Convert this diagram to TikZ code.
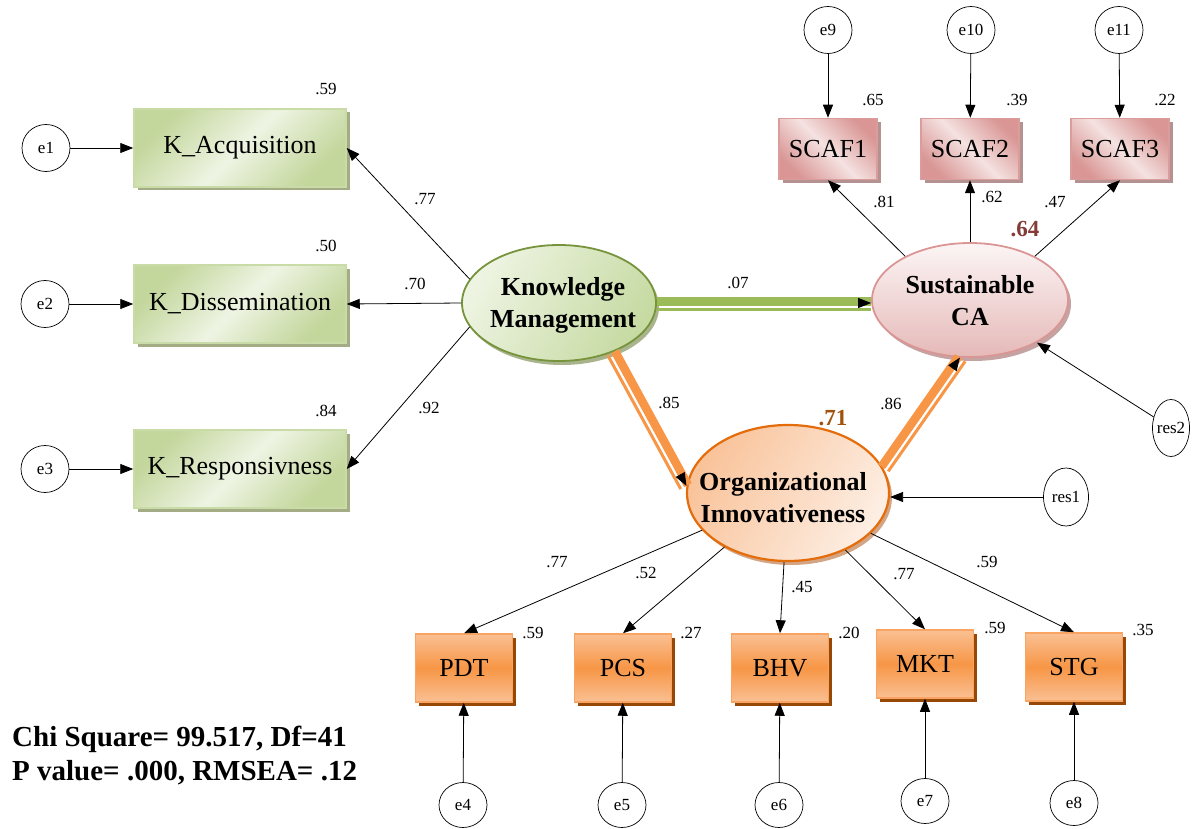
\documentclass[tikz,border=0pt]{standalone}
\usepackage{fontspec}
\setmainfont{Liberation Serif}
\usetikzlibrary{arrows.meta,shadows,calc,shapes.geometric}
\definecolor{gdark}{HTML}{C3D69B}
\definecolor{glight}{HTML}{EEF4E3}
\definecolor{gbord}{HTML}{C9DBA6}
\definecolor{gshad}{HTML}{A3AC84}
\definecolor{kmbord}{HTML}{77933C}
\definecolor{kmdark}{HTML}{C6DAA2}
\definecolor{kmlight}{HTML}{EEF4E2}
\definecolor{kmshad}{HTML}{A9B48C}
\definecolor{pdark}{HTML}{D99694}
\definecolor{plight}{HTML}{F4E2E1}
\definecolor{pbord}{HTML}{DA9D9B}
\definecolor{pshad}{HTML}{B39291}
\definecolor{scatop}{HTML}{FCF5F5}
\definecolor{scabot}{HTML}{E5B9B8}
\definecolor{scabord}{HTML}{D99694}
\definecolor{scashad}{HTML}{C4A3A2}
\definecolor{omid}{HTML}{F79646}
\definecolor{olight}{HTML}{FAC093}
\definecolor{obord}{HTML}{F9A463}
\definecolor{oshad}{HTML}{974806}
\definecolor{oidark}{HTML}{F9C39A}
\definecolor{oilight}{HTML}{FDEEE3}
\definecolor{oibord}{HTML}{E46C0A}
\definecolor{oishad}{HTML}{D3A584}
\definecolor{gline}{HTML}{9BBB59}
\definecolor{oline}{HTML}{F79646}
\definecolor{rred}{HTML}{843C39}
\definecolor{rorg}{HTML}{A0520F}
\newcommand\dblconn[4]{%
  \draw[#3, line width=8.5pt] ($(#1)!1.7pt!90:(#2)$) -- ($(#2)!1.7pt!-90:(#1)$);
  \draw[#3, line width=3pt] ($(#1)!#4!-90:(#2)$) -- ($(#2)!#4!90:(#1)$);
  \draw[arr] ($(#2)!13pt!(#1)$) -- (#2);
}
\begin{document}
\begin{tikzpicture}[x=1pt,y=-1pt,
  arr/.style={-{Triangle[length=13pt,width=10pt]}, line width=0.8pt, black},
  errnode/.style={draw, ellipse, line width=0.7pt, minimum width=48pt, minimum height=47pt, inner sep=0pt, fill=white, font=\fontsize{17}{20}\selectfont},
  resnode/.style={draw, ellipse, line width=0.7pt, minimum width=45pt, minimum height=58pt, inner sep=0pt, fill=white, font=\fontsize{17}{20}\selectfont},
  num/.style={inner sep=0pt, font=\fontsize{17}{20}\selectfont},
  rsq/.style={inner sep=0pt, font=\bfseries\fontsize{23}{26}\selectfont},
  latfont/.style={inner sep=0pt, align=center, font=\bfseries\fontsize{26}{32}\selectfont},
  gbox/.style={rectangle, draw=gbord, line width=1.5pt, minimum width=212pt, minimum height=78pt, inner sep=0pt,
    left color=gdark, right color=gdark, middle color=glight, shading angle=45,
    drop shadow={shadow xshift=3.5pt, shadow yshift=-3.5pt, fill=gshad, opacity=1},
    font=\fontsize{26}{30}\selectfont},
  pbox/.style={rectangle, draw=pbord, line width=1.5pt, minimum width=98pt, minimum height=61pt, inner sep=0pt,
    left color=pdark, right color=pdark, middle color=plight, shading angle=135,
    drop shadow={shadow xshift=3.5pt, shadow yshift=-3.5pt, fill=pshad, opacity=1},
    font=\fontsize{26}{30}\selectfont},
  obox/.style={rectangle, draw=obord, line width=1.5pt, minimum width=97pt, minimum height=68pt, inner sep=0pt,
    top color=olight, bottom color=olight, middle color=omid,
    drop shadow={shadow xshift=3.5pt, shadow yshift=-3.5pt, fill=oshad, opacity=1},
    font=\fontsize{26}{30}\selectfont},
  kmshape/.style={ellipse, draw=kmbord, line width=1.8pt, minimum width=194pt, minimum height=116pt, inner sep=0pt,
    left color=kmlight, right color=kmdark, shading angle=60,
    drop shadow={shadow xshift=3pt, shadow yshift=-4pt, fill=kmshad, opacity=1}},
  scashape/.style={ellipse, draw=scabord, line width=1.8pt, minimum width=196pt, minimum height=114pt, inner sep=0pt,
    top color=scatop, bottom color=scabot,
    drop shadow={shadow xshift=3pt, shadow yshift=-4pt, fill=scashad, opacity=1}},
  oishape/.style={ellipse, draw=oibord, line width=2.2pt, minimum width=202pt, minimum height=136pt, inner sep=0pt,
    left color=oidark, right color=oilight, shading angle=60,
    drop shadow={shadow xshift=3pt, shadow yshift=-4pt, fill=oishad, opacity=1}},
  chi/.style={inner sep=0pt, anchor=base west, font=\bfseries\fontsize{29}{34}\selectfont}
]
\useasboundingbox (0,0) rectangle (1196,829);

% Left: Knowledge Management indicators
\node[errnode] (e1) at (46,148) {e1};
\node[errnode] (e2) at (45,304) {e2};
\node[errnode] (e3) at (45,469) {e3};
\node[gbox] (ka) at (240,148) {K\_Acquisition};
\node[gbox] (kd) at (240,304) {K\_Dissemination};
\node[gbox] (kr) at (240,469) {K\_Responsivness};
\node[num] (n59a) at (326,89) {.59};
\node[num] (n50) at (326,246) {.50};
\node[num] (n84) at (326,411) {.84};

% Latent variables
\node[kmshape] (KM) at (559,303) {};
\node[latfont] (KMt) at (563,305) {Knowledge\\Management};
\node[scashape] (SCA) at (970,300) {};
\node[latfont] (SCAt) at (970,301) {Sustainable\\CA};
\node[oishape] (OI) at (788,493) {};
\node[latfont] (OIt) at (783,498) {Organizational\\Innovativeness};

% SCA indicators
\node[errnode] (e9) at (828,30) {e9};
\node[errnode] (e10) at (971,30) {e10};
\node[errnode] (e11) at (1119,30) {e11};
\node[pbox] (s1) at (828,149) {SCAF1};
\node[pbox] (s2) at (970,149) {SCAF2};
\node[pbox] (s3) at (1120,149) {SCAF3};
\node[num] (n65) at (873,100) {.65};
\node[num] (n39) at (1017,100) {.39};
\node[num] (n22) at (1165,100) {.22};
\node[num] (n81) at (884,202) {.81};
\node[num] (n62) at (992,197) {.62};
\node[num] (n47) at (1055,202) {.47};
\node[rsq, text=rred] (r64) at (1025,229) {.64};

% residuals
\node[resnode] (res1) at (1066,497) {\makebox[0pt]{res1}};
\node[resnode, minimum width=37pt, minimum height=57pt] (res2) at (1171,428) {\makebox[0pt]{res2}};

% OI indicators
\node[obox] (pdt) at (464,668) {PDT};
\node[obox] (pcs) at (623,668) {PCS};
\node[obox] (bhv) at (780,668) {BHV};
\node[obox] (mkt) at (925,664) {MKT};
\node[obox] (stg) at (1074,667) {STG};
\node[errnode, minimum height=45pt] (e4) at (463,805) {e4};
\node[errnode, minimum height=45pt] (e5) at (622,805) {e5};
\node[errnode, minimum height=45pt] (e6) at (779,805) {e6};
\node[errnode, minimum height=45pt] (e7) at (925,801) {e7};
\node[errnode, minimum height=45pt] (e8) at (1074,803) {e8};
\node[num] (n59b) at (533,633) {.59};
\node[num] (n27) at (691,633) {.27};
\node[num] (n20) at (849,633) {.20};
\node[num] (n59c) at (995,628) {.59};
\node[num] (n35) at (1143,630) {.35};
\node[num] (n77b) at (557,562) {.77};
\node[num] (n52) at (646,573) {.52};
\node[num] (n45) at (802,587) {.45};
\node[num] (n77c) at (904,574) {.77};
\node[num] (n59d) at (987,562) {.59};
\node[rsq, text=rorg] (r71) at (833,418) {.71};

% structural labels
\node[num] (n77a) at (425,199) {.77};
\node[num] (n70) at (415,284) {.70};
\node[num] (n92) at (429,408) {.92};
\node[num] (n07) at (738,283) {.07};
\node[num] (n85) at (669,403) {.85};
\node[num] (n86) at (891,404) {.86};

% fit text
\node[chi] (chi1) at (12,746) {Chi Square= 99.517, Df=41};
\node[chi] (chi2) at (12,780) {P value= .000, RMSEA= .12};

% connectors: errors
\draw[arr] (e1) -- (ka);
\draw[arr] (e2) -- (kd);
\draw[arr] (e3) -- (kr);
\draw[arr] (e9) -- (s1);
\draw[arr] (e10) -- (s2);
\draw[arr] (e11) -- (s3);
\draw[arr] (e4) -- (pdt);
\draw[arr] (e5) -- (pcs);
\draw[arr] (e6) -- (bhv);
\draw[arr] (e7) -- (mkt);
\draw[arr] (e8) -- (stg);
\draw[arr] (res2) -- (SCA);
\coordinate (oiIn) at (OI.east |- res1.west);
\draw[arr] (res1) -- (oiIn);

% loadings
\draw[arr] (KM.165) -- (ka.east);
\draw[arr] (KM.west) -- (kd.east);
\draw[arr] (KM.195) -- (kr.east);
\draw[arr] (SCA.146) -- (s1.south);
\draw[arr] (SCA.north) -- (s2.south);
\draw[arr] (SCA.34) -- (s3.south);
\draw[arr] (OI) -- (pdt.north);
\draw[arr] (OI) -- (pcs.north);
\draw[arr] (OI) -- (bhv.north);
\draw[arr] (OI) -- (mkt.north);
\draw[arr] (OI) -- (stg.north);

% structural paths
\coordinate (scaIn) at (SCA.west |- KM.east);
\dblconn{KM.east}{scaIn}{gline}{6.5pt}
\dblconn{KM.318}{OI.176}{oline}{6.5pt}
\dblconn{OI.15}{SCA.260}{oline}{6.5pt}
\end{tikzpicture}
\end{document}
